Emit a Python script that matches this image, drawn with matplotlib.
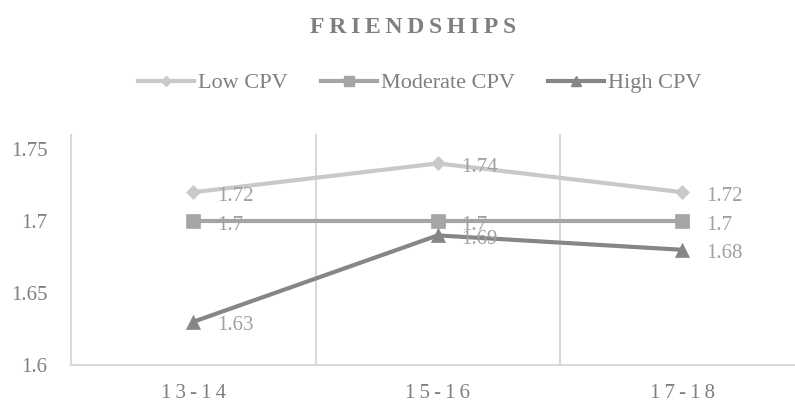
import matplotlib
matplotlib.use("Agg")
import matplotlib.pyplot as plt
from matplotlib.lines import Line2D

# ---- data ----
categories = ["13-14", "15-16", "17-18"]
low_cpv = [1.72, 1.74, 1.72]
moderate_cpv = [1.70, 1.70, 1.70]
high_cpv = [1.63, 1.69, 1.68]
series_names = ["Low CPV", "Moderate CPV", "High CPV"]
y_ticks = [1.6, 1.65, 1.7, 1.75]
y_tick_labels = ["1.6", "1.65", "1.7", "1.75"]
title_text = "FRIENDSHIPS"

plt.rcParams['font.family'] = ['Liberation Serif', 'DejaVu Serif']

fig = plt.figure(figsize=(7.95, 4.03), dpi=100)
ax = fig.add_axes([71 / 795, 38 / 403, 733.5 / 795, 230.4 / 403])

colors = ['#c9c9c9', '#a5a5a5', '#868686']
markers = ['D', 's', '^']
msizes = [7, 9.5, 10.5]
label_color = '#a0a0a0'
text_color = '#7f7f7f'
grid_color = '#d9d9d9'

x = list(range(len(categories)))
all_series = [low_cpv, moderate_cpv, high_cpv]
handles = []
for vals, c, m, ms, name in zip(all_series, colors, markers, msizes, series_names):
    ax.plot(x, vals, color=c, lw=3, marker=m, ms=ms, mfc=c, mec=c,
            mew=0.5, zorder=3, solid_capstyle='round')
    for xi, v in zip(x, vals):
        ax.annotate(f"{v:g}", (xi, v), xytext=(17, -3), textcoords='offset points',
                    ha='left', va='center', fontsize=15, color=label_color, zorder=4)
    handles.append(Line2D([], [], color=c, lw=3, marker=m, ms=ms * 0.7,
                          mfc=c, mec=c, label=name))

ax.set_xlim(-0.5, len(categories) - 0.5)
ax.set_ylim(1.6, 1.76)
ax.set_yticks(y_ticks)
ax.set_yticklabels(y_tick_labels)
ax.set_xticks(x)
ax.set_xticklabels(["\u2009".join(c) for c in categories])
ax.tick_params(axis='both', length=0, labelsize=15, colors=text_color)
ax.tick_params(axis='y', pad=17)
ax.tick_params(axis='x', pad=14)

for s in ['top', 'right', 'left']:
    ax.spines[s].set_visible(False)
ax.spines['bottom'].set_color(grid_color)
ax.spines['bottom'].set_linewidth(1.5)
ax.spines['bottom'].set_zorder(1)

for b in range(len(categories) + 1):
    ax.axvline(b - 0.5, color=grid_color, lw=1.5, zorder=1, clip_on=False)

fig.text(413 / 795, 1 - 33 / 403, "\u2009".join(title_text), ha='center',
         va='baseline', fontsize=17, fontweight='bold', color=text_color)

fig.legend(handles=handles, loc='center', bbox_to_anchor=(420 / 795, 1 - 83 / 403),
           ncol=3, frameon=False, handlelength=2.5, handletextpad=0.2,
           columnspacing=1.5, fontsize=16, labelcolor=text_color)

fig.savefig("out.png", dpi=100)
